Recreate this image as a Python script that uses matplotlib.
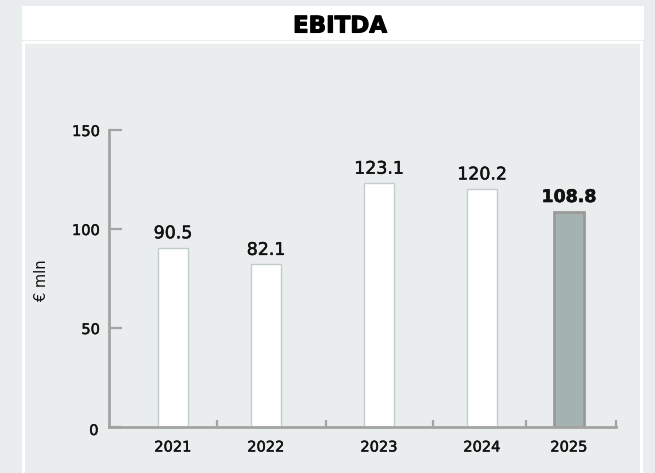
import matplotlib.pyplot as plt
import matplotlib.patheffects as pe
from matplotlib.patches import Rectangle

years = ["2021", "2022", "2023", "2024", "2025"]
ebitda = [90.5, 82.1, 123.1, 120.2, 108.8]
y_ticks = [0, 50, 100, 150]

# layout (uneven spacing as in the source)
centers = [0.64, 1.57, 2.70, 3.73, 4.60]
bounds = [1.085, 2.166, 3.237, 4.17, 5.07]

W, H = 655, 473
bg = "#e9edee"
spine = "#a3a3a3"
txt = "#111111"
medium = [pe.withStroke(linewidth=0.35, foreground=txt)]

fig = plt.figure(figsize=(W / 100, H / 100), dpi=100)
fig.patch.set_facecolor(bg)


def px_rect(x0, y0, x1, y1, color):
    # pixel box (top-left origin) -> figure fraction
    r = Rectangle((x0 / W, 1 - y1 / H), (x1 - x0) / W, (y1 - y0) / H,
                  transform=fig.transFigure, facecolor=color,
                  edgecolor="none", zorder=0)
    fig.add_artist(r)


px_rect(22, 6, 644, 40, "white")
px_rect(22, 41, 643, 473, "white")
px_rect(25, 44, 640, 473, bg)

fig.text(340 / W, 1 - 26 / H, "EBITDA", ha="center", va="center",
         fontsize=16.5, fontweight="bold", color="black",
         family="DejaVu Sans",
         path_effects=[pe.withStroke(linewidth=0.8, foreground="black")])

ax = fig.add_axes([109 / W, (H - 427) / H, (616 - 109) / W, 297 / H])
ax.set_facecolor("none")
ax.set_xlim(0, 5.07)
ax.set_ylim(0, 150)

colors = ["white"] * 4 + ["#a4b2b0"]
edges = ["#c3cdcc"] * 4 + ["#9a9a9a"]
lws = [1.0] * 4 + [2.0]
ax.bar(centers, ebitda, width=0.30, color=colors,
       edgecolor=edges, linewidth=lws, zorder=2)

for i, (c, v) in enumerate(zip(centers, ebitda)):
    last = i == len(ebitda) - 1
    ax.annotate(f"{v:.1f}", (c, v), xytext=(0, 4), textcoords="offset points",
                ha="center", va="bottom", fontsize=12.5, color=txt,
                fontweight="bold" if last else "normal",
                path_effects=[pe.withStroke(linewidth=0.4, foreground=txt)]
                if last else medium,
                annotation_clip=False)

for s in ["top", "right"]:
    ax.spines[s].set_visible(False)
for s in ["left", "bottom"]:
    ax.spines[s].set_color(spine)
    ax.spines[s].set_linewidth(2)
    ax.spines[s].set_zorder(3)

ax.set_yticks(y_ticks)
ax.set_yticklabels([""] + [str(t) for t in y_ticks[1:]])
ax.tick_params(axis="y", direction="in", length=9, width=1.6, color=spine,
               labelsize=10.5, labelcolor=txt, pad=6.5)
# the zero label sits a little below the baseline
ax.annotate(str(y_ticks[0]), (0, y_ticks[0]), xytext=(-7.5, -2.5),
            textcoords="offset points", ha="right", va="center",
            fontsize=10.5, color=txt, path_effects=medium,
            annotation_clip=False)

ax.set_xticks(centers)
ax.set_xticklabels(years)
ax.set_xticks(bounds, minor=True)
ax.tick_params(axis="x", which="major", length=0, labelsize=10.5,
               labelcolor=txt, pad=9)
ax.tick_params(axis="x", which="minor", direction="in", length=5,
               width=1.6, color=spine)

for lab in ax.get_xticklabels() + ax.get_yticklabels():
    lab.set_path_effects(medium)

fig.text(42 / W, 1 - 280 / H, "€ mln", rotation=90, ha="center",
         va="center", fontsize=10.5, color=txt)

fig.savefig("out.png", dpi=100, facecolor=bg)
